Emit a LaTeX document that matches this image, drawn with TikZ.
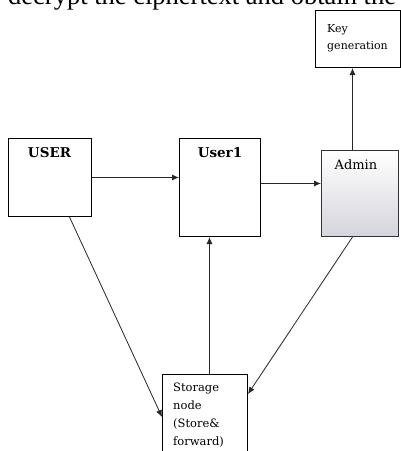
\documentclass[tikz,border=0pt]{standalone}
\usepackage{fontspec}
\setmainfont{DejaVu Serif}
\newfontfamily\bodyserif{Liberation Serif}
\usetikzlibrary{arrows.meta,calc}

\tikzset{
  box/.style={draw=black, line width=1pt, fill=white, anchor=north west, inner sep=0pt},
  adminbox/.style={box, draw=black!80, top color=white,
    bottom color={rgb,255:red,212;green,212;blue,220}},
  lbl/.style={inner sep=0pt, font=\fontsize{11}{13}\selectfont},
  blbl/.style={inner sep=0pt, font=\fontsize{13.5}{15}\selectfont\bfseries},
  arr/.style={draw=black!85, line width=0.8pt, -{Latex[length=7pt,width=6pt]}}
}

\begin{document}
\begin{tikzpicture}[x=1pt,y=-1pt]
  \clip (0,0) rectangle (401,451);
  \fill[white] (0,0) rectangle (401,451);

  % running text line above the figure
  \node[anchor=base west, inner sep=0pt, font=\bodyserif\fontsize{26.5}{30}\selectfont]
    (caption) at (8,4) {decrypt the ciphertext and obtain the};

  % boxes
  \node[box, minimum width=85pt, minimum height=57pt] (key) at (315,10) {};
  \node[box, minimum width=83pt, minimum height=78pt] (user) at (8,138) {};
  \node[box, minimum width=81pt, minimum height=98pt] (user1) at (179,138) {};
  \node[adminbox, minimum width=77pt, minimum height=86pt] (admin) at (321,150) {};
  \node[box, minimum width=85pt, minimum height=90pt] (store) at (162,374) {};

  % labels (base anchor sits on the last line of a multi-line node)
  \node[lbl, anchor=base west, align=left, font=\fontsize{11}{17.5}\selectfont]
    (keytxt) at (327,49.5) {Key\\generation};
  \node[blbl, anchor=base] (usertxt) at (49.5,157) {USER};
  \node[blbl, anchor=base] (user1txt) at (220,157) {User1};
  \node[lbl, anchor=base, font=\fontsize{13}{15}\selectfont] (admintxt) at (356,169) {Admin};
  \node[lbl, anchor=base west, align=left, font=\fontsize{11.5}{18}\selectfont]
    (storetxt) at (173,445) {Storage\\node\\(Store\&\\forward)};

  % connectors
  \draw[arr] (user.east) -- (user.east -| user1.west);
  \coordinate (u1out) at ([yshift=4pt]user1.east);
  \draw[arr] (u1out) -- (u1out -| admin.west);
  \coordinate (adup) at ([xshift=-7.5pt]admin.north);
  \draw[arr] (adup) -- (adup |- key.south);
  \coordinate (stup) at ([xshift=4.5pt]store.north);
  \draw[arr] (stup) -- (stup |- user1.south);
  \draw[arr] ([xshift=19.5pt]user.south) -- ([yshift=-43pt]store.north west);
  \draw[arr] ([xshift=-7.5pt]admin.south) -- ([yshift=-20pt]store.north east);
\end{tikzpicture}
\end{document}
